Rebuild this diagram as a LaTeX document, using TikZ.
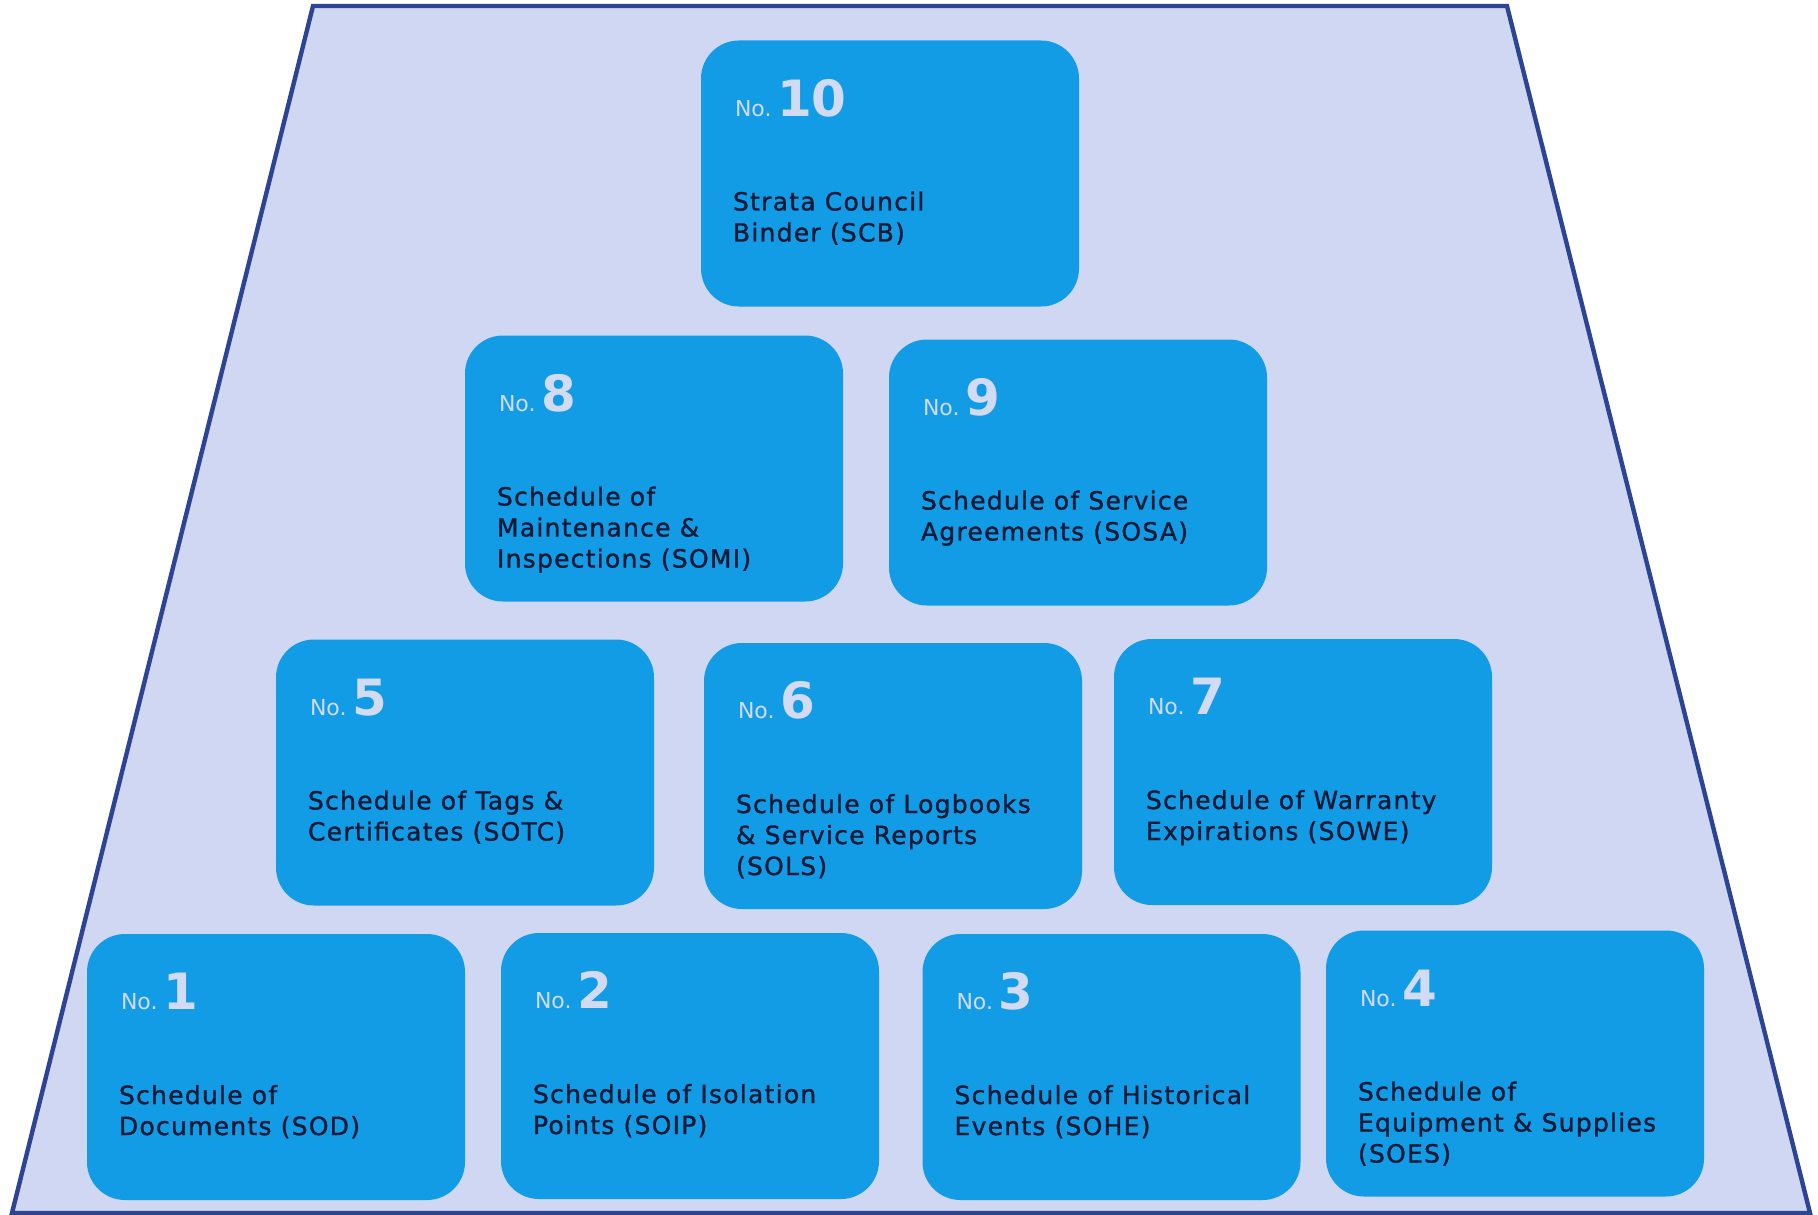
\documentclass[tikz,border=0pt]{standalone}
\usepackage{fontspec}
\setmainfont{DejaVu Sans}
\newfontfamily\bodyfont[LetterSpace=5,FakeBold=1.2]{DejaVu Sans}
\begin{document}
\begin{tikzpicture}[x=0.5pt,y=-0.5pt]
  \definecolor{frame}{HTML}{2D4492}
  \definecolor{backfill}{HTML}{CFD7F2}
  \definecolor{tile}{HTML}{129CE5}
  \definecolor{ink}{HTML}{131A38}
  \definecolor{pale}{HTML}{D3DAF3}
  \tikzset{card/.style={fill=tile,rounded corners=19pt,minimum width=189pt,minimum height=133pt,inner sep=0pt},
    nolabel/.style={anchor=base west,inner sep=0pt,text=pale,font=\fontsize{11}{12}\selectfont},
    digit/.style={anchor=base west,inner sep=0pt,text=pale,font=\fontsize{25}{26}\selectfont\bfseries},
    title/.style={anchor=north west,inner sep=0pt,text=ink,align=left,font=\bodyfont\fontsize{12.5}{15.5}\selectfont,
      execute at begin node={\rule{0pt}{10pt}}}}
  \useasboundingbox (0,0) rectangle (1818,1214);
  \draw[frame,fill=backfill,line width=2.2pt] (313,6) -- (1507,6) -- (1810,1213) -- (12,1213) -- cycle;
  % top row
  \node[card] (scb) at (890,173.5) {};
  \node[nolabel] (scb-no) at ([shift={(17pt,-38pt)}]scb.north west) {No.};
  \node[digit] (scb-n) at ([shift={(38pt,-38pt)}]scb.north west) {10};
  \node[title] (scb-txt) at ([shift={(16pt,-75.5pt)}]scb.north west) {Strata Council\\Binder (SCB)};
  % second row
  \node[card] (somi) at (654,468.5) {};
  \node[nolabel] (somi-no) at ([shift={(17pt,-38pt)}]somi.north west) {No.};
  \node[digit] (somi-n) at ([shift={(38pt,-38pt)}]somi.north west) {8};
  \node[title] (somi-txt) at ([shift={(16pt,-75.5pt)}]somi.north west) {Schedule of\\Maintenance \&\\Inspections (SOMI)};
  \node[card] (sosa) at (1078,472.5) {};
  \node[nolabel] (sosa-no) at ([shift={(17pt,-38pt)}]sosa.north west) {No.};
  \node[digit] (sosa-n) at ([shift={(38pt,-38pt)}]sosa.north west) {9};
  \node[title] (sosa-txt) at ([shift={(16pt,-75.5pt)}]sosa.north west) {Schedule of Service\\Agreements (SOSA)};
  % third row
  \node[card] (sotc) at (465,772.5) {};
  \node[nolabel] (sotc-no) at ([shift={(17pt,-38pt)}]sotc.north west) {No.};
  \node[digit] (sotc-n) at ([shift={(38pt,-38pt)}]sotc.north west) {5};
  \node[title] (sotc-txt) at ([shift={(16pt,-75.5pt)}]sotc.north west) {Schedule of Tags \&\\Certificates (SOTC)};
  \node[card] (sols) at (893,776) {};
  \node[nolabel] (sols-no) at ([shift={(17pt,-38pt)}]sols.north west) {No.};
  \node[digit] (sols-n) at ([shift={(38pt,-38pt)}]sols.north west) {6};
  \node[title] (sols-txt) at ([shift={(16pt,-75.5pt)}]sols.north west) {Schedule of Logbooks\\\& Service Reports\\(SOLS)};
  \node[card] (sowe) at (1303,772) {};
  \node[nolabel] (sowe-no) at ([shift={(17pt,-38pt)}]sowe.north west) {No.};
  \node[digit] (sowe-n) at ([shift={(38pt,-38pt)}]sowe.north west) {7};
  \node[title] (sowe-txt) at ([shift={(16pt,-75.5pt)}]sowe.north west) {Schedule of Warranty\\Expirations (SOWE)};
  % bottom row
  \node[card] (sod) at (276,1067) {};
  \node[nolabel] (sod-no) at ([shift={(17pt,-38pt)}]sod.north west) {No.};
  \node[digit] (sod-n) at ([shift={(38pt,-38pt)}]sod.north west) {1};
  \node[title] (sod-txt) at ([shift={(16pt,-75.5pt)}]sod.north west) {Schedule of\\Documents (SOD)};
  \node[card] (soip) at (690,1066) {};
  \node[nolabel] (soip-no) at ([shift={(17pt,-38pt)}]soip.north west) {No.};
  \node[digit] (soip-n) at ([shift={(38pt,-38pt)}]soip.north west) {2};
  \node[title] (soip-txt) at ([shift={(16pt,-75.5pt)}]soip.north west) {Schedule of Isolation\\Points (SOIP)};
  \node[card] (sohe) at (1111.5,1067) {};
  \node[nolabel] (sohe-no) at ([shift={(17pt,-38pt)}]sohe.north west) {No.};
  \node[digit] (sohe-n) at ([shift={(38pt,-38pt)}]sohe.north west) {3};
  \node[title] (sohe-txt) at ([shift={(16pt,-75.5pt)}]sohe.north west) {Schedule of Historical\\Events (SOHE)};
  \node[card] (soes) at (1515,1063.5) {};
  \node[nolabel] (soes-no) at ([shift={(17pt,-38pt)}]soes.north west) {No.};
  \node[digit] (soes-n) at ([shift={(38pt,-38pt)}]soes.north west) {4};
  \node[title] (soes-txt) at ([shift={(16pt,-75.5pt)}]soes.north west) {Schedule of\\Equipment \& Supplies\\(SOES)};
\end{tikzpicture}
\end{document}
